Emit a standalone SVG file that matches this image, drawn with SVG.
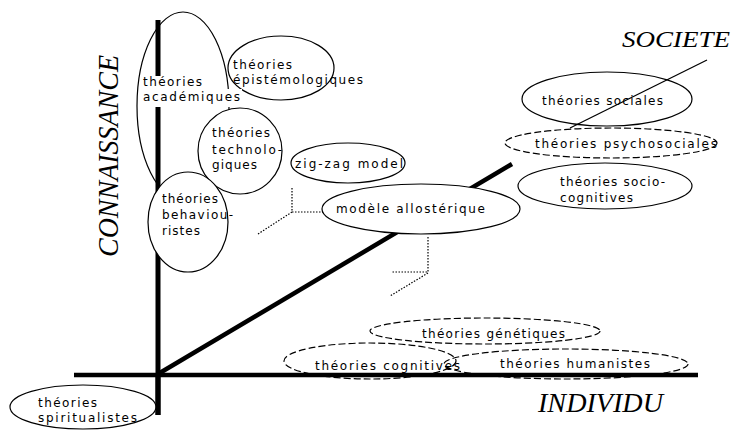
<svg xmlns="http://www.w3.org/2000/svg" width="734" height="434" viewBox="0 0 734 434">
<style>
.n{fill:#fff;stroke:#000;stroke-width:1.2}
.o{fill:none;stroke:#000;stroke-width:1.2}
.d{fill:none;stroke:#000;stroke-width:1.2;stroke-dasharray:7 3}
.dw{fill:#fff;stroke:#000;stroke-width:1.2;stroke-dasharray:7 3}
.t{font-family:"DejaVu Sans","Liberation Sans",sans-serif;font-size:12px;fill:#000}
.lab{font-family:"Liberation Serif","Times New Roman",serif;font-style:italic;fill:#000}
.ax{stroke:#000;fill:none}
.dot{stroke:#000;stroke-width:1.2;stroke-dasharray:1.5 1.5;fill:none}
</style>
<rect width="734" height="434" fill="#fff"/>

<g id="episte">
<ellipse class="n" cx="281" cy="68" rx="53" ry="32"/>
</g>
<g id="academiques">
<ellipse class="n" cx="183" cy="106" rx="46" ry="94"/>
</g>

<g id="connectors">
<line class="ax" x1="158" y1="20" x2="158" y2="415" stroke-width="5"/>
<line class="ax" x1="74" y1="375" x2="698" y2="375" stroke-width="4.5"/>
<line class="ax" x1="158" y1="374" x2="512" y2="164" stroke-width="4.5"/>
<line class="ax" x1="570" y1="128" x2="707" y2="60" stroke-width="1.3"/>
<polyline class="dot" points="292,188 292,212 323,212"/>
<line class="dot" x1="292" y1="212" x2="258" y2="234"/>
<polyline class="dot" points="428,237 428,272 392,272"/>
<line class="dot" x1="428" y1="273" x2="390" y2="296"/>
</g>

<g id="technologiques">
<ellipse class="n" cx="240" cy="151" rx="42" ry="43"/>
<text class="t" x="212" y="137" textLength="58" lengthAdjust="spacing">théories</text>
<text class="t" x="212" y="154" textLength="70" lengthAdjust="spacing">technolo-</text>
<text class="t" x="212" y="169" textLength="45" lengthAdjust="spacing">giques</text>
</g>

<g id="academiques-text">
<rect x="140" y="76" width="66" height="13" fill="#fff"/>
<rect x="140" y="89" width="102" height="18" fill="#fff"/>
<text class="t" x="143" y="86" textLength="59" lengthAdjust="spacing">théories</text>
<text class="t" x="143" y="101" textLength="97" lengthAdjust="spacing">académiques</text>
</g>

<g id="episte-text">
<text class="t" x="233" y="69" textLength="59" lengthAdjust="spacing">théories</text>
<text class="t" x="233" y="84" textLength="130" lengthAdjust="spacing">épistémologiques</text>
</g>

<g id="behaviouristes">
<ellipse class="n" cx="188" cy="222" rx="40" ry="50"/>
<text class="t" x="162" y="203" textLength="56" lengthAdjust="spacing">théories</text>
<text class="t" x="162" y="219" textLength="71" lengthAdjust="spacing">behaviou-</text>
<text class="t" x="162" y="235" textLength="38" lengthAdjust="spacing">ristes</text>
</g>

<g id="zigzag">
<ellipse class="n" cx="348" cy="163" rx="57" ry="20"/>
<text class="t" x="295" y="168" textLength="108" lengthAdjust="spacing">zig-zag model</text>
</g>

<g id="allosterique">
<ellipse class="n" cx="421" cy="209" rx="99" ry="25"/>
<text class="t" x="336" y="213" textLength="149" lengthAdjust="spacing">modèle allostérique</text>
</g>

<g id="sociales">
<ellipse class="o" cx="607" cy="99" rx="85" ry="27"/>
<text class="t" x="542" y="105" textLength="121" lengthAdjust="spacing">théories sociales</text>
</g>

<g id="psychosociales">
<ellipse class="dw" cx="611" cy="143" rx="106" ry="15"/>
<text class="t" x="535" y="148" textLength="182" lengthAdjust="spacing">théories psychosociales</text>
</g>

<g id="sociocognitives">
<ellipse class="n" cx="605" cy="186" rx="87" ry="23"/>
<text class="t" x="560" y="186" textLength="105" lengthAdjust="spacing">théories socio-</text>
<text class="t" x="560" y="202" textLength="73" lengthAdjust="spacing">cognitives</text>
</g>

<g id="genetiques">
<ellipse class="d" cx="485" cy="331" rx="115" ry="13"/>
<text class="t" x="422" y="338" textLength="143" lengthAdjust="spacing">théories génétiques</text>
</g>

<g id="cognitives">
<ellipse class="d" cx="370" cy="361" rx="86" ry="18"/>
<text class="t" x="315" y="370" textLength="145" lengthAdjust="spacing">théories cognitives</text>
</g>

<g id="humanistes">
<ellipse class="d" cx="566" cy="364" rx="122" ry="15"/>
<text class="t" x="500" y="368" textLength="150" lengthAdjust="spacing">théories humanistes</text>
</g>

<g id="spiritualistes">
<ellipse class="n" cx="83" cy="407" rx="73" ry="22"/>
<text class="t" x="38" y="407" textLength="59" lengthAdjust="spacing">théories</text>
<text class="t" x="38" y="422" textLength="99" lengthAdjust="spacing">spiritualistes</text>
</g>

<g id="vertical-axis-front">
<line class="ax" x1="158" y1="376" x2="158" y2="415" stroke-width="5"/>
</g>

<g id="labels">
<text class="lab" font-size="29" transform="translate(118,257) rotate(-90)" textLength="202" lengthAdjust="spacingAndGlyphs">CONNAISSANCE</text>
<text class="lab" font-size="24" x="622" y="47" textLength="108" lengthAdjust="spacingAndGlyphs">SOCIETE</text>
<text class="lab" font-size="28" x="538" y="412" textLength="125" lengthAdjust="spacingAndGlyphs">INDIVIDU</text>
</g>
</svg>
